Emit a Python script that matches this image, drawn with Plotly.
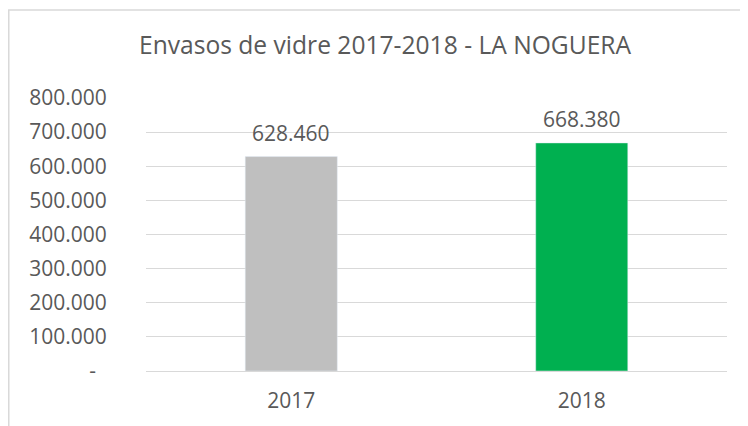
import plotly.graph_objects as go

categories = ["2017", "2018"]
values = [628460, 668380]
colors = ["#BFBFBF", "#00B050"]
tick_vals = [0, 100000, 200000, 300000, 400000, 500000, 600000, 700000, 800000]
tick_text = ["-\u00a0\u00a0", "100.000", "200.000", "300.000", "400.000", "500.000",
             "600.000", "700.000", "800.000"]
title_text = "Envasos de vidre 2017-2018 - LA NOGUERA"

def fmt(v):
    return f"{v:,}".replace(",", ".")

FONT = "Open Sans"
TXT = "#595959"

fig = go.Figure()
fig.add_trace(go.Bar(
    x=categories, y=values, marker_color=colors, width=0.317,
    cliponaxis=False,
))
for i, v in enumerate(values):
    fig.add_annotation(x=i, y=v, text=fmt(v), showarrow=False, yanchor="middle",
                       yshift=24, font=dict(family=FONT, size=21, color=TXT))
fig.update_layout(
    width=740, height=418,
    margin=dict(l=138, r=21, t=90, b=55),
    paper_bgcolor="white", plot_bgcolor="white",
    showlegend=False,
    title=dict(text=title_text, x=0.5095, xanchor="center", y=0.9115, yanchor="middle",
               font=dict(family=FONT, size=24.6, color=TXT)),
    xaxis=dict(type="category", range=[-0.5, len(categories) - 0.5], autorange=False,
               showgrid=False, showline=False, ticks="outside", ticklen=11,
               automargin=False,
               tickcolor="rgba(0,0,0,0)", tickfont=dict(family=FONT, size=21, color=TXT)),
    yaxis=dict(range=[0, 800000], tickvals=tick_vals, ticktext=tick_text, automargin=False,
               showgrid=True, gridcolor="#D9D9D9", gridwidth=1.3, zeroline=True,
               zerolinecolor="#D9D9D9", zerolinewidth=1.3, showline=False,
               ticks="outside", ticklen=34, tickcolor="rgba(0,0,0,0)",
               tickfont=dict(family=FONT, size=21, color=TXT)),
    shapes=[dict(type="rect", xref="paper", yref="paper",
                 x0=-0.2362, x1=2, y0=-2, y1=1.3223,
                 line=dict(color="#D9D9D9", width=1.5), fillcolor="rgba(0,0,0,0)", layer="below")],
)
fig.write_html("out.html")
